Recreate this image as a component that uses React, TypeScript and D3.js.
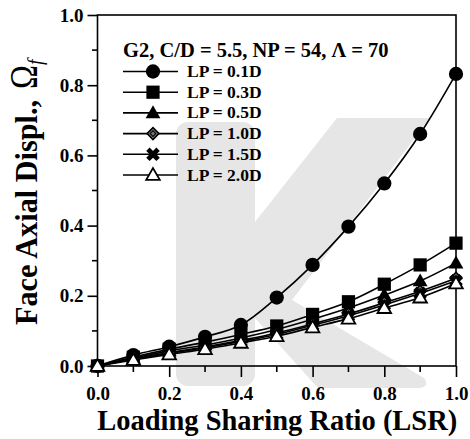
import { useEffect, useRef } from "react";
import * as d3 from "d3";

// x values (load sharing ratio)
const lsr = [0, 0.1, 0.2, 0.3, 0.4, 0.5, 0.6, 0.7, 0.8, 0.9, 1.0];

// face axial displacement for each pile length
const lp01 = [0, 0.031, 0.055, 0.083, 0.117, 0.195, 0.288, 0.397, 0.52, 0.661, 0.832];
const lp03 = [0, 0.025, 0.048, 0.068, 0.09, 0.114, 0.147, 0.183, 0.233, 0.288, 0.35];
const lp05 = [0, 0.022, 0.043, 0.06, 0.08, 0.104, 0.133, 0.165, 0.202, 0.242, 0.293];
const lp10 = [0, 0.02, 0.038, 0.054, 0.073, 0.094, 0.12, 0.148, 0.18, 0.213, 0.25];
const lp15 = [0, 0.019, 0.036, 0.052, 0.07, 0.09, 0.116, 0.143, 0.174, 0.207, 0.243];
const lp20 = [0, 0.017, 0.033, 0.048, 0.066, 0.085, 0.11, 0.135, 0.165, 0.195, 0.235];

const seriesLabels = ["LP = 0.1D", "LP = 0.3D", "LP = 0.5D", "LP = 1.0D", "LP = 1.5D", "LP = 2.0D"];
const seriesValues = [lp01, lp03, lp05, lp10, lp15, lp20];
const markerKinds = ["circle", "square", "triangle", "diamond", "x", "openTriangle"];

const xTicks = [0, 0.2, 0.4, 0.6, 0.8, 1.0];
const yTicks = [0, 0.2, 0.4, 0.6, 0.8, 1.0];

const FONT = "'Liberation Serif', 'Times New Roman', serif";

export default function App() {
  const svgRef = useRef<SVGSVGElement>(null);

  useEffect(() => {
    if (!svgRef.current) return;
    const svg = d3.select(svgRef.current);
    svg.selectAll("*").remove();

    const left = 97.5;
    const right = 456;
    const top = 15;
    const bottom = 366;

    const x = d3.scaleLinear().domain([0, 1]).range([left, right]);
    const y = d3.scaleLinear().domain([0, 1]).range([bottom, top]);

    svg.append("rect").attr("width", 470).attr("height", 439).attr("fill", "#fff");

    // faint watermark in the background
    const wm = svg.append("g").attr("fill", "#e6e6e6");
    wm.append("rect")
      .attr("x", 176)
      .attr("y", 122)
      .attr("width", 79)
      .attr("height", 264)
      .attr("rx", 12);
    wm.append("path")
      .attr(
        "d",
        "M337,118 L430,118 L292,300 L424,378 Q430,386 420,388 L318,388 L255,318 L255,222 Z"
      );

    // frame
    svg.append("rect")
      .attr("x", left)
      .attr("y", top)
      .attr("width", right - left)
      .attr("height", bottom - top)
      .attr("fill", "none")
      .attr("stroke", "#000")
      .attr("stroke-width", 1.6);

    // minor ticks
    const minor = d3.range(0.1, 1.0, 0.2);
    svg.append("g")
      .selectAll("line")
      .data(minor)
      .join("line")
      .attr("x1", left - 5.5)
      .attr("x2", left)
      .attr("y1", (d) => y(d))
      .attr("y2", (d) => y(d))
      .attr("stroke", "#000")
      .attr("stroke-width", 1.6);
    svg.append("g")
      .selectAll("line")
      .data(minor)
      .join("line")
      .attr("y1", bottom)
      .attr("y2", bottom + 6)
      .attr("x1", (d) => x(d))
      .attr("x2", (d) => x(d))
      .attr("stroke", "#000")
      .attr("stroke-width", 1.6);

    // axes
    const yAxis = svg.append("g")
      .attr("transform", `translate(${left},0)`)
      .call(d3.axisLeft(y).tickValues(yTicks).tickFormat(d3.format(".1f")).tickSize(10).tickPadding(4));
    const xAxis = svg.append("g")
      .attr("transform", `translate(0,${bottom})`)
      .call(d3.axisBottom(x).tickValues(xTicks).tickFormat(d3.format(".1f")).tickSize(11).tickPadding(10));
    [yAxis, xAxis].forEach((a) => {
      a.select(".domain").remove();
      a.selectAll("line").attr("stroke", "#000").attr("stroke-width", 1.6);
      a.selectAll("text")
        .attr("fill", "#000")
        .style("font-family", FONT)
        .style("font-weight", "bold")
        .style("font-size", "19px");
    });

    // series lines
    const line = d3
      .line<number>()
      .x((_, i) => x(lsr[i]))
      .y((d) => y(d))
      .curve(d3.curveCatmullRom);

    seriesValues.forEach((vals) => {
      svg.append("path")
        .attr("d", line(vals))
        .attr("fill", "none")
        .attr("stroke", "#000")
        .attr("stroke-width", 1.6);
    });

    const drawMarker = (g: d3.Selection<SVGGElement, unknown, null, undefined>, kind: string) => {
      if (kind === "circle") {
        g.append("path").attr("d", d3.symbol(d3.symbolCircle, 160)()).attr("fill", "#000");
      } else if (kind === "square") {
        g.append("path").attr("d", d3.symbol(d3.symbolSquare, 175)()).attr("fill", "#000");
      } else if (kind === "triangle") {
        g.append("path").attr("d", d3.symbol(d3.symbolTriangle, 95)()).attr("fill", "#000")
          .attr("transform", "translate(0,1)");
      } else if (kind === "diamond") {
        g.append("path").attr("d", d3.symbol(d3.symbolSquare, 70)())
          .attr("transform", "rotate(45)")
          .attr("fill", "#777").attr("stroke", "#000").attr("stroke-width", 1.6);
        g.append("path").attr("d", d3.symbol(d3.symbolSquare, 16)())
          .attr("transform", "rotate(45)")
          .attr("fill", "none").attr("stroke", "#000").attr("stroke-width", 1);
      } else if (kind === "x") {
        g.append("path").attr("d", d3.symbol(d3.symbolCross, 115)())
          .attr("transform", "rotate(45)").attr("fill", "#000");
      } else {
        g.append("path").attr("d", d3.symbol(d3.symbolTriangle, 80)())
          .attr("transform", "translate(0,1)")
          .attr("fill", "#fff").attr("stroke", "#000").attr("stroke-width", 1.8);
      }
    };

    seriesValues.forEach((vals, s) => {
      vals.forEach((v, i) => {
        const g = svg.append("g").attr("transform", `translate(${x(lsr[i])},${y(v)})`);
        drawMarker(g, markerKinds[s]);
      });
    });

    // legend
    svg.append("text")
      .attr("x", 123)
      .attr("y", 57)
      .style("font-family", FONT)
      .style("font-weight", "bold")
      .style("font-size", "20.5px")
      .text("G2, C/D = 5.5, NP = 54, \u039B = 70");

    const legendY = d3.scaleLinear().domain([0, 5]).range([71.5, 175]);
    seriesLabels.forEach((lab, s) => {
      const cy = legendY(s);
      svg.append("line")
        .attr("x1", 123).attr("x2", 178)
        .attr("y1", cy).attr("y2", cy)
        .attr("stroke", "#000").attr("stroke-width", 1.6);
      const g = svg.append("g").attr("transform", `translate(153,${cy})`);
      drawMarker(g, markerKinds[s]);
      svg.append("text")
        .attr("x", 187)
        .attr("y", cy + 5.5)
        .style("font-family", FONT)
        .style("font-weight", "bold")
        .style("font-size", "17.5px")
        .text(lab);
    });

    // axis titles
    svg.append("text")
      .attr("x", (left + right) / 2 + 0.5)
      .attr("y", 430)
      .attr("text-anchor", "middle")
      .attr("textLength", 360)
      .attr("lengthAdjust", "spacingAndGlyphs")
      .style("font-family", FONT)
      .style("font-weight", "bold")
      .style("font-size", "29px")
      .text("Loading Sharing Ratio (LSR)");

    svg.append("text")
      .attr("transform", "translate(37,325) rotate(-90)")
      .attr("textLength", 225)
      .attr("lengthAdjust", "spacingAndGlyphs")
      .style("font-family", FONT)
      .style("font-weight", "bold")
      .style("font-size", "32px")
      .text("Face Axial Displ.,");

    svg.append("text")
      .attr("transform", "translate(37,89) rotate(-90)")
      .attr("textLength", 24)
      .attr("lengthAdjust", "spacingAndGlyphs")
      .style("font-family", FONT)
      .style("font-size", "40px")
      .text("\u03A9");

    svg.append("text")
      .attr("transform", "translate(42,65) rotate(-90)")
      .style("font-family", FONT)
      .style("font-style", "italic")
      .style("font-size", "20px")
      .text("f");
  }, []);

  return (
    <svg
      ref={svgRef}
      width={470}
      height={439}
      style={{ position: "absolute", left: 0, top: 0 }}
    />
  );
}
